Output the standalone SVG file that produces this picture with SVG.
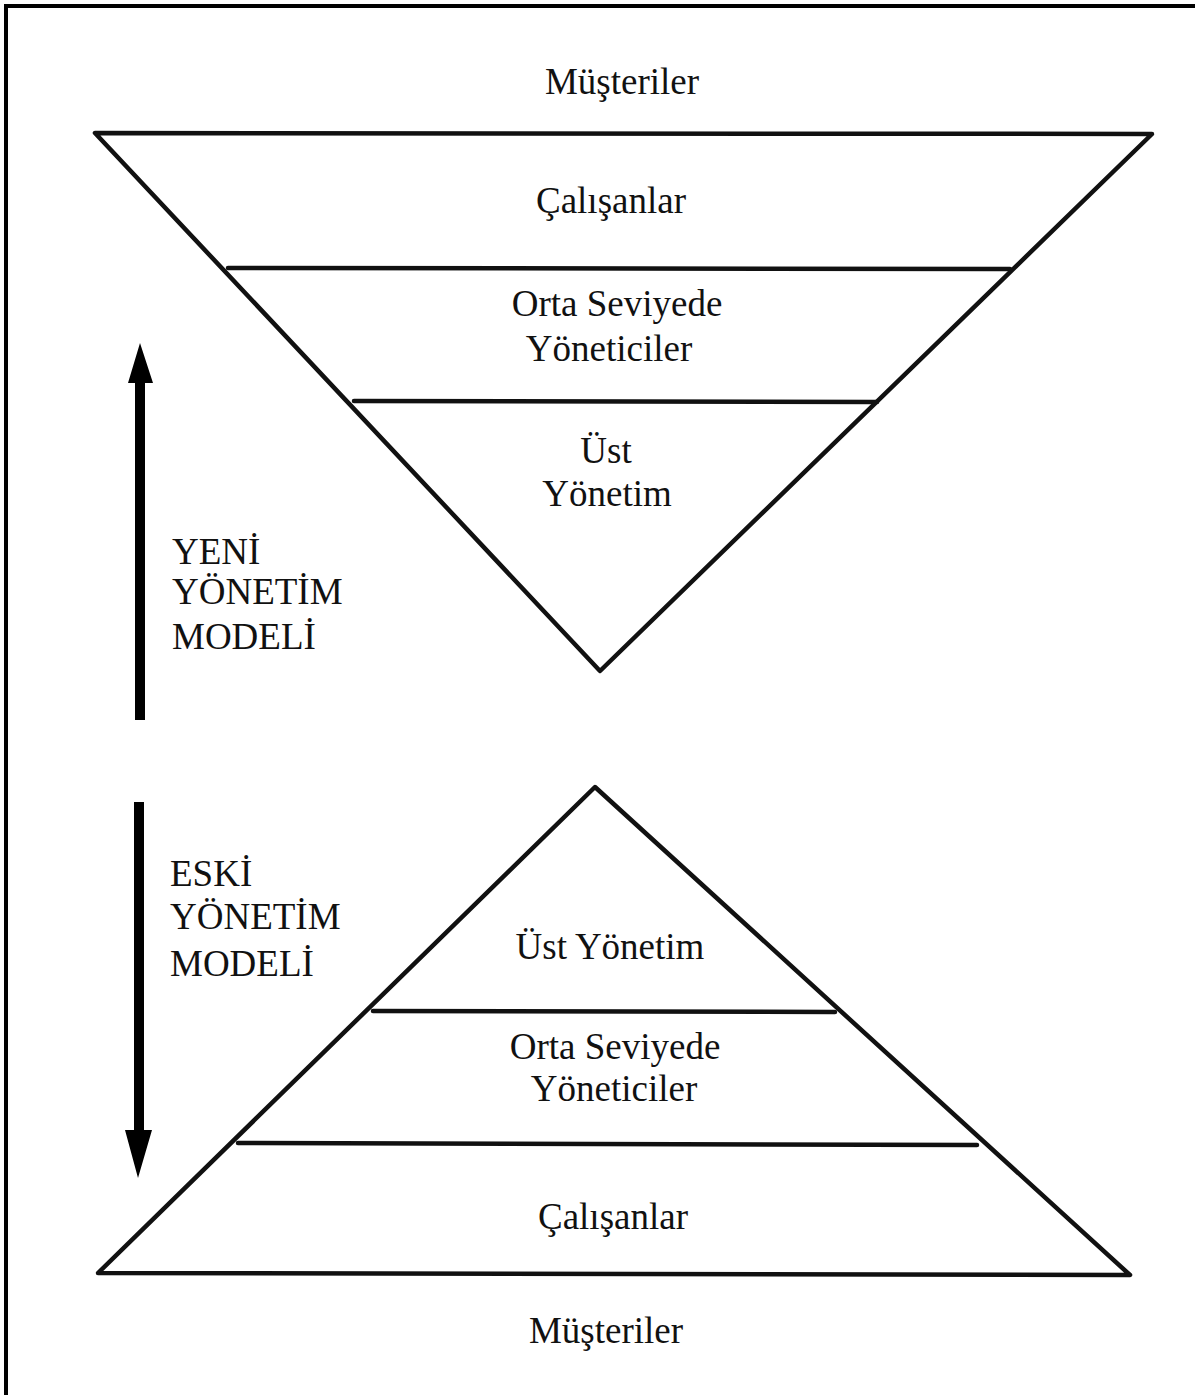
<svg xmlns="http://www.w3.org/2000/svg" width="1199" height="1395" viewBox="0 0 1199 1395">
<style>
.t{font-family:"Liberation Serif","DejaVu Serif",serif;font-size:37px;fill:#111;text-anchor:middle}
.l{font-family:"Liberation Serif","DejaVu Serif",serif;font-size:37px;fill:#111;text-anchor:start}
.s{fill:none;stroke:#111;stroke-width:4.5;stroke-linejoin:round;stroke-linecap:round}
</style>
<rect width="1199" height="1395" fill="#fff"/>
<path d="M6 1395 V6 H1195" fill="none" stroke="#000" stroke-width="4"/>
<g id="top-pyramid">
<path class="s" d="M95 133 L1152 134 L600 671 Z"/>
<line class="s" x1="228" y1="268" x2="1010" y2="269"/>
<line class="s" x1="354" y1="401" x2="877" y2="402"/>
<text class="t" x="622" y="94">Müşteriler</text>
<text class="t" x="611" y="213">Çalışanlar</text>
<text class="t" x="617" y="316">Orta Seviyede</text>
<text class="t" x="609" y="361">Yöneticiler</text>
<text class="t" x="606" y="463">Üst</text>
<text class="t" x="607" y="506">Yönetim</text>
</g>
<g id="bottom-pyramid">
<path class="s" d="M595 787 L1130 1275 L98 1273 Z"/>
<line class="s" x1="373" y1="1011" x2="835" y2="1012"/>
<line class="s" x1="238" y1="1143" x2="977" y2="1145"/>
<text class="t" x="610" y="959">Üst Yönetim</text>
<text class="t" x="615" y="1059">Orta Seviyede</text>
<text class="t" x="614" y="1101">Yöneticiler</text>
<text class="t" x="613" y="1229">Çalışanlar</text>
<text class="t" x="606" y="1343">Müşteriler</text>
</g>
<g id="connectors">
<path d="M135 720 V383 H128 L140 343 L153 383 H145 V720 Z" fill="#000"/>
<path d="M134 802 H144 V1130 H152 L138 1178 L125 1130 H134 Z" fill="#000"/>
</g>
<g id="labels">
<text class="l" x="172" y="564">YENİ</text>
<text class="l" x="172" y="604">YÖNETİM</text>
<text class="l" x="172" y="649">MODELİ</text>
<text class="l" x="170" y="886">ESKİ</text>
<text class="l" x="170" y="929">YÖNETİM</text>
<text class="l" x="170" y="976">MODELİ</text>
</g>
</svg>
